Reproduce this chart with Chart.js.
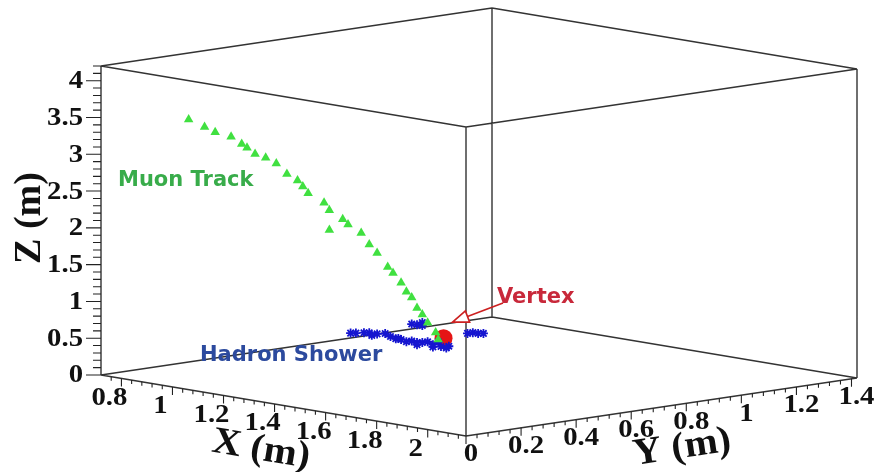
<!DOCTYPE html>
<html>
<head>
<meta charset="utf-8">
<title>Event display</title>
<script src="https://cdn.jsdelivr.net/npm/chart.js"></script>
<style>
  html, body { margin: 0; padding: 0; background: #fff; }
</style>
</head>
<body>
<canvas id="eventChart" width="881" height="472"></canvas>
<script>
// 3D data (metres)
const muonX = [0.88, 0.91, 0.93, 0.96, 0.98, 0.99, 1.00, 1.02, 1.04, 1.06, 1.08, 1.09, 1.10, 1.13, 1.14, 1.16, 1.17, 1.14, 1.20, 1.21, 1.23, 1.25, 1.26, 1.27, 1.28, 1.29, 1.30, 1.31, 1.32, 1.33, 1.34];
const muonY = [0.17, 0.20, 0.22, 0.25, 0.27, 0.28, 0.30, 0.32, 0.34, 0.36, 0.38, 0.39, 0.40, 0.43, 0.44, 0.47, 0.48, 0.44, 0.50, 0.52, 0.53, 0.55, 0.56, 0.58, 0.59, 0.60, 0.61, 0.62, 0.63, 0.65, 0.65];
const muonZ = [3.47, 3.37, 3.30, 3.24, 3.14, 3.09, 3.00, 2.95, 2.87, 2.73, 2.64, 2.56, 2.47, 2.34, 2.24, 2.11, 2.04, 1.97, 1.93, 1.77, 1.66, 1.47, 1.39, 1.25, 1.13, 1.05, 0.91, 0.82, 0.71, 0.57, 0.48];

const showerX = [1.18, 1.19, 1.20, 1.21, 1.23, 1.24, 1.25, 1.26, 1.27, 1.28, 1.29, 1.30, 1.31, 1.32, 1.33, 1.34, 1.34, 1.36, 1.29, 1.30, 1.31, 1.31, 1.39, 1.40, 1.41, 1.42, 1.22, 1.27, 1.30, 1.33, 1.35];
const showerY = [0.48, 0.49, 0.51, 0.52, 0.53, 0.55, 0.56, 0.57, 0.58, 0.59, 0.60, 0.61, 0.62, 0.63, 0.64, 0.65, 0.66, 0.67, 0.60, 0.61, 0.62, 0.62, 0.71, 0.72, 0.73, 0.74, 0.52, 0.57, 0.61, 0.64, 0.67];
const showerZ = [0.57, 0.57, 0.57, 0.57, 0.56, 0.56, 0.52, 0.49, 0.48, 0.45, 0.46, 0.44, 0.44, 0.45, 0.41, 0.45, 0.38, 0.39, 0.69, 0.68, 0.71, 0.67, 0.56, 0.57, 0.56, 0.56, 0.54, 0.50, 0.41, 0.38, 0.36];

const vertexX = [1.35];
const vertexY = [0.66];
const vertexZ = [0.50];

// axis ranges and tick labels
const xRange = [0.72, 2.15];
const yRange = [0, 1.42];
const zRange = [0, 4.2];
const xTicks = [0.8, 1, 1.2, 1.4, 1.6, 1.8, 2];
const yTicks = [0, 0.2, 0.4, 0.6, 0.8, 1, 1.2, 1.4];
const zTicks = [0, 0.5, 1, 1.5, 2, 2.5, 3, 3.5, 4];

// projection of the box onto the page
const FRAME = { ox: 101, oy: 375, xdx: 365, xdy: 61, ydx: 391, ydy: -58, zh: 309 };

function proj(x, y, z) {
  const a = (x - xRange[0]) / (xRange[1] - xRange[0]);
  const b = (y - yRange[0]) / (yRange[1] - yRange[0]);
  const c = (z - zRange[0]) / (zRange[1] - zRange[0]);
  return {
    x: FRAME.ox + a * FRAME.xdx + b * FRAME.ydx,
    y: FRAME.oy + a * FRAME.xdy + b * FRAME.ydy - c * FRAME.zh
  };
}

function points(xs, ys, zs) {
  return xs.map((x, i) => proj(x, ys[i], zs[i]));
}

// box edges
const GAP = { x: null, y: null };
const edges = [];
const [x0, x1] = xRange, [y0, y1] = yRange, [z0, z1] = zRange;
[
  [[x0, y0, z0], [x1, y0, z0]], [[x1, y0, z0], [x1, y1, z0]], [[x1, y1, z0], [x0, y1, z0]], [[x0, y1, z0], [x0, y0, z0]],
  [[x0, y0, z1], [x1, y0, z1]], [[x1, y0, z1], [x1, y1, z1]], [[x1, y1, z1], [x0, y1, z1]], [[x0, y1, z1], [x0, y0, z1]],
  [[x0, y0, z0], [x0, y0, z1]], [[x1, y0, z0], [x1, y0, z1]], [[x1, y1, z0], [x1, y1, z1]], [[x0, y1, z0], [x0, y1, z1]]
].forEach(([p, q]) => { edges.push(proj(...p), proj(...q), GAP); });

// tick marks
const ticks = [];
function isMajor(v, list) { return list.some(t => Math.abs(t - v) < 1e-6); }
for (let z = 0; z <= z1 + 1e-6; z += 0.1) {
  const p = proj(x0, y0, z);
  const len = isMajor(z, zTicks) ? 15 : 8;
  ticks.push(p, { x: p.x - len, y: p.y }, GAP);
}
for (let x = 0.76; x <= x1 + 1e-6; x += 0.04) {
  const p = proj(x, y0, z0);
  const len = isMajor(x, xTicks) ? 8 : 4;
  ticks.push(p, { x: p.x, y: p.y + len }, GAP);
}
for (let y = 0; y <= y1 + 1e-6; y += 0.04) {
  const p = proj(x1, y, z0);
  const len = isMajor(y, yTicks) ? 8 : 4;
  ticks.push(p, { x: p.x, y: p.y + len }, GAP);
}

const overlay = {
  id: 'overlay',
  afterDatasetsDraw(chart) {
    const ctx = chart.ctx, sx = chart.scales.x, sy = chart.scales.y;
    const pix = p => [sx.getPixelForValue(p.x), sy.getPixelForValue(p.y)];
    // text a bit wider than the font, like the original
    const wide = (text, x, y, ang, stretch) => {
      ctx.save(); ctx.translate(x, y); ctx.rotate(ang || 0); ctx.scale(stretch, 1);
      ctx.fillText(text, 0, 0); ctx.restore();
    };
    ctx.save();
    ctx.fillStyle = '#111';
    ctx.font = 'bold 25px "Liberation Serif", serif';
    ctx.textBaseline = 'middle';

    ctx.textAlign = 'right';
    zTicks.forEach(v => {
      const [X, Y] = pix(proj(x0, y0, v));
      wide(String(v), X - 18, Y + 1, 0, 1.15);
    });
    ctx.textAlign = 'center';
    xTicks.forEach(v => {
      const [X, Y] = pix(proj(v, y0, z0));
      wide(String(v), X - 12, Y + 20, 0, 1.15);
    });
    yTicks.forEach(v => {
      const [X, Y] = pix(proj(x1, v, z0));
      wide(String(v), X + 5, Y + 19, 0, 1.15);
    });

    // axis titles
    ctx.font = 'bold 38px "Liberation Serif", serif';
    wide('Z (m)', 30, 218, -Math.PI / 2, 1);
    wide('X (m)', 261, 450, Math.atan2(FRAME.xdy, FRAME.xdx), 1.05);
    wide('Y (m)', 682, 448, Math.atan2(FRAME.ydy, FRAME.ydx), 1.05);

    // annotations
    ctx.font = 'bold 21px "DejaVu Sans", sans-serif';
    ctx.textAlign = 'left';
    ctx.fillStyle = '#38ac4a';
    ctx.fillText('Muon Track', 118, 181);
    ctx.fillStyle = '#2c4a9e';
    ctx.fillText('Hadron Shower', 200, 356);
    ctx.fillStyle = '#c8283a';
    ctx.fillText('Vertex', 497, 298);

    // arrow to the vertex
    const [vx, vy] = pix(proj(vertexX[0], vertexY[0], vertexZ[0]));
    const tip = [vx + 9, vy - 16], tail = [503, 303];
    const ang = Math.atan2(tip[1] - tail[1], tip[0] - tail[0]);
    const hl = 16, hw = 6;
    const bx = tip[0] - hl * Math.cos(ang), by = tip[1] - hl * Math.sin(ang);
    ctx.strokeStyle = '#cc2020';
    ctx.lineWidth = 1.7;
    ctx.beginPath(); ctx.moveTo(tail[0], tail[1]); ctx.lineTo(bx, by); ctx.stroke();
    ctx.beginPath();
    ctx.moveTo(tip[0], tip[1]);
    ctx.lineTo(bx + hw * Math.sin(ang), by - hw * Math.cos(ang));
    ctx.lineTo(bx - hw * Math.sin(ang), by + hw * Math.cos(ang));
    ctx.closePath();
    ctx.fillStyle = '#fff';
    ctx.fill();
    ctx.stroke();
    ctx.restore();
  }
};

new Chart(document.getElementById('eventChart'), {
  type: 'scatter',
  data: {
    datasets: [
      {
        label: 'Muon Track',
        data: points(muonX, muonY, muonZ),
        pointStyle: 'triangle',
        pointRadius: 5.5,
        backgroundColor: '#40e040',
        borderColor: '#40e040',
        borderWidth: 0,
        order: 0
      },
      {
        label: 'Hadron Shower',
        data: points(showerX, showerY, showerZ),
        pointStyle: 'star',
        pointRadius: 4.5,
        borderColor: '#1515d0',
        borderWidth: 1.8,
        order: 1
      },
      {
        label: 'Vertex',
        data: points(vertexX, vertexY, vertexZ),
        pointStyle: 'circle',
        pointRadius: 9,
        backgroundColor: '#e51515',
        borderColor: '#e51515',
        borderWidth: 0,
        order: 2
      },
      {
        label: 'ticks',
        data: ticks,
        showLine: true,
        spanGaps: false,
        pointRadius: 0,
        borderColor: '#222',
        borderWidth: 1.1,
        order: 3
      },
      {
        label: 'frame',
        data: edges,
        showLine: true,
        spanGaps: false,
        pointRadius: 0,
        borderColor: '#333',
        borderWidth: 1.4,
        order: 4
      }
    ]
  },
  options: {
    responsive: false,
    animation: false,
    layout: { padding: 0, autoPadding: false },
    clip: false,
    scales: {
      x: { type: 'linear', display: false, min: 0, max: 881 },
      y: { type: 'linear', display: false, min: 0, max: 472, reverse: true }
    },
    plugins: {
      legend: { display: false },
      tooltip: { enabled: false }
    }
  },
  plugins: [overlay]
});
</script>
</body>
</html>
